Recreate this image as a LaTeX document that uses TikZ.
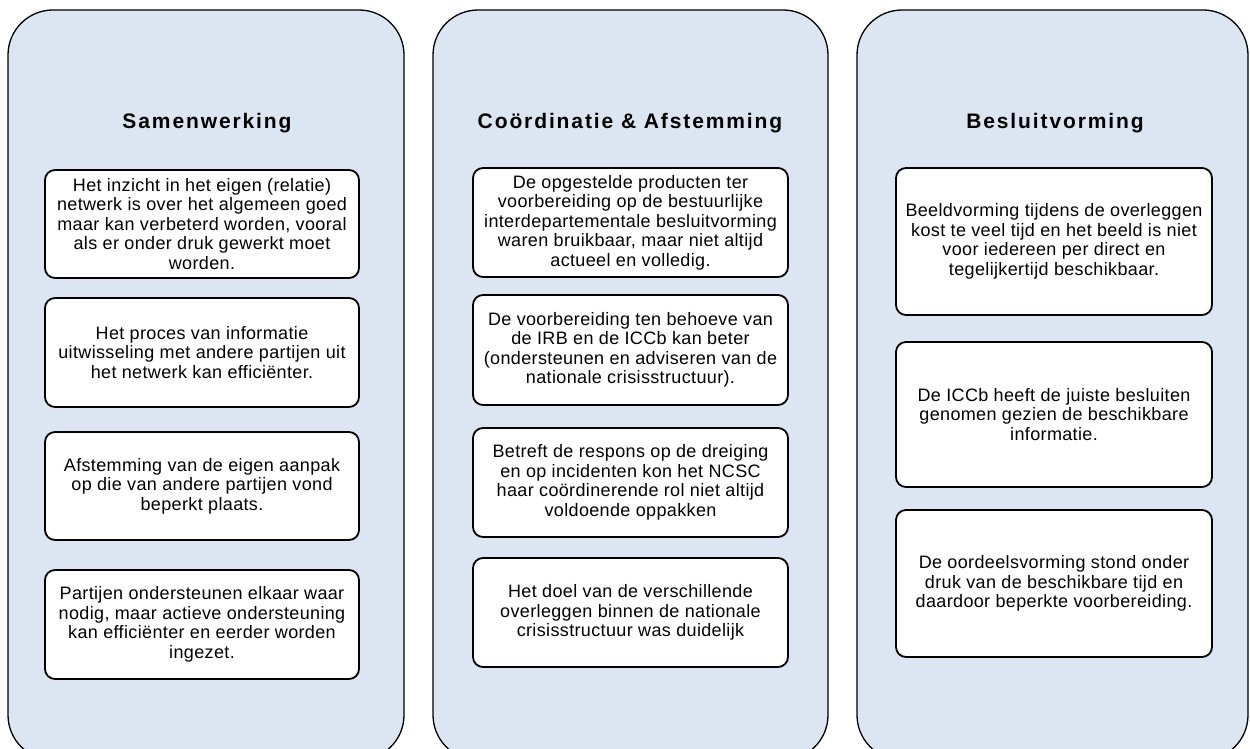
\documentclass[tikz,border=0pt]{standalone}
\usepackage{fontspec}
\setmainfont{Liberation Sans}
\newfontfamily\bodyfont[LetterSpace=2]{Liberation Sans}
\newfontfamily\headfont[LetterSpace=9]{Liberation Sans}
\definecolor{panelfill}{HTML}{DCE6F2}
\begin{document}
\begin{tikzpicture}[x=1pt,y=-1pt,
  panel/.style={draw=black, line width=1.3pt, fill=panelfill, rounded corners=45pt, inner sep=0pt, minimum height=750pt},
  card/.style={draw=black, line width=1.8pt, fill=white, rounded corners=10pt, inner sep=0pt, align=center,
    font=\bodyfont\fontsize{18}{19.5}\selectfont},
  heading/.style={font=\headfont\bfseries\fontsize{21}{24}\selectfont, inner sep=0pt}]
\useasboundingbox (0,0) rectangle (1250,749);
% panels
\node[panel, minimum width=396pt] (p1) at (206,385) {};
\node[panel, minimum width=395pt] (p2) at (630.5,385) {};
\node[panel, minimum width=391pt] (p3) at (1052.5,385) {};
% headings
\node[heading] (h1) at (207,123) {Samenwerking};
\node[heading] (h2) at (630,123) {Coördinatie \& Afstemming};
\node[heading] (h3) at (1055,123) {Besluitvorming};
% column 1
\node[card, minimum width=314pt, minimum height=108pt] (b11) at (202,224) {Het inzicht in het eigen (relatie)\\netwerk is over het algemeen goed\\maar kan verbeterd worden, vooral\\als er onder druk gewerkt moet\\worden.};
\node[card, minimum width=314pt, minimum height=109pt] (b12) at (202,352.5) {Het proces van informatie\\uitwisseling met andere partijen uit\\het netwerk kan efficiënter.};
\node[card, minimum width=314pt, minimum height=108pt] (b13) at (202,486) {Afstemming van de eigen aanpak\\op die van andere partijen vond\\beperkt plaats.};
\node[card, minimum width=314pt, minimum height=109pt] (b14) at (202,624.5) {Partijen ondersteunen elkaar waar\\nodig, maar actieve ondersteuning\\kan efficiënter en eerder worden\\ingezet.};
% column 2
\node[card, minimum width=315pt, minimum height=109pt] (b21) at (630.5,222.5) {De opgestelde producten ter\\voorbereiding op de bestuurlijke\\interdepartementale besluitvorming\\waren bruikbaar, maar niet altijd\\actueel en volledig.};
\node[card, minimum width=315pt, minimum height=110pt] (b22) at (630.5,350) {De voorbereiding ten behoeve van\\de IRB en de ICCb kan beter\\(ondersteunen en adviseren van de\\nationale crisisstructuur).};
\node[card, minimum width=315pt, minimum height=109pt] (b23) at (630.5,482.5) {Betreft de respons op de dreiging\\en op incidenten kon het NCSC\\haar coördinerende rol niet altijd\\voldoende oppakken};
\node[card, minimum width=315pt, minimum height=109pt] (b24) at (630.5,612.5) {Het doel van de verschillende\\overleggen binnen de nationale\\crisisstructuur was duidelijk};
% column 3
\node[card, minimum width=316pt, minimum height=147pt] (b31) at (1054,241.5) {Beeldvorming tijdens de overleggen\\kost te veel tijd en het beeld is niet\\voor iedereen per direct en\\tegelijkertijd beschikbaar.};
\node[card, minimum width=316pt, minimum height=145pt] (b32) at (1054,414.5) {De ICCb heeft de juiste besluiten\\genomen gezien de beschikbare\\informatie.};
\node[card, minimum width=316pt, minimum height=147pt] (b33) at (1054,583.5) {De oordeelsvorming stond onder\\druk van de beschikbare tijd en\\daardoor beperkte voorbereiding.};
\end{tikzpicture}
\end{document}
